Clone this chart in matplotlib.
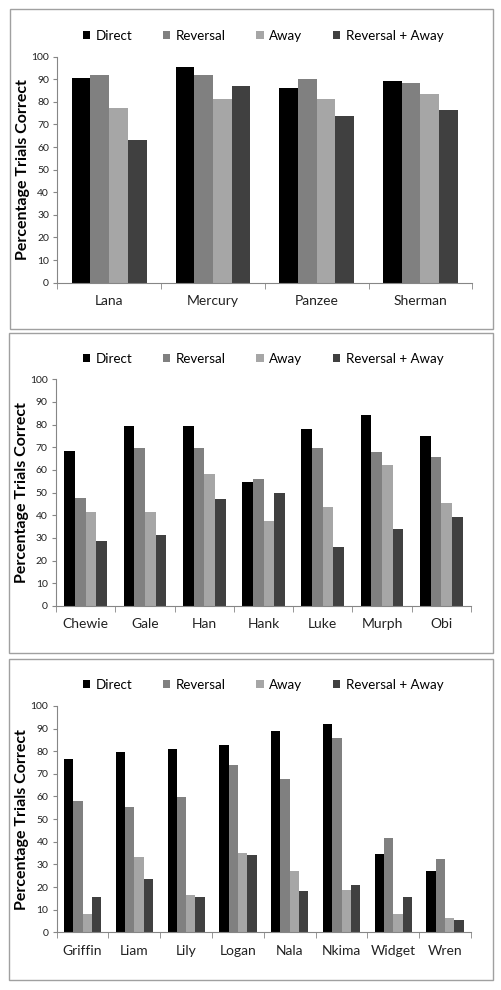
import numpy as np
import matplotlib.pyplot as plt
from matplotlib.patches import Rectangle

series = ["Direct", "Reversal", "Away", "Reversal + Away"]
colors = ["#000000", "#808080", "#a6a6a6", "#404040"]

# panel 1
names_1 = ["Lana", "Mercury", "Panzee", "Sherman"]
direct_1 = [90.7, 95.6, 86.0, 89.2]
reversal_1 = [92.0, 92.0, 90.1, 88.2]
away_1 = [77.3, 81.3, 81.3, 83.3]
revaway_1 = [63.3, 87.0, 73.7, 76.5]

# panel 2
names_2 = ["Chewie", "Gale", "Han", "Hank", "Luke", "Murph", "Obi"]
direct_2 = [68.5, 79.4, 79.4, 54.6, 77.9, 84.1, 74.9]
reversal_2 = [47.8, 69.9, 69.9, 55.9, 69.9, 67.8, 65.9]
away_2 = [41.5, 41.5, 58.1, 37.5, 43.5, 62.4, 45.6]
revaway_2 = [28.8, 31.5, 47.2, 49.9, 26.2, 34.1, 39.3]

# panel 3
names_3 = ["Griffin", "Liam", "Lily", "Logan", "Nala", "Nkima", "Widget", "Wren"]
direct_3 = [76.4, 79.5, 81.1, 82.9, 89.0, 92.0, 34.5, 27.1]
reversal_3 = [57.9, 55.4, 59.9, 74.1, 67.9, 85.9, 41.8, 32.6]
away_3 = [8.2, 33.3, 16.5, 35.2, 27.0, 18.6, 8.2, 6.5]
revaway_3 = [15.8, 23.7, 15.6, 34.2, 18.4, 20.9, 15.8, 5.4]

plt.rcParams['font.family'] = ['Lato', 'DejaVu Sans']

fig = plt.figure(figsize=(5.02, 9.9), dpi=100)

panels = [
    (names_1, [direct_1, reversal_1, away_1, revaway_1],
     [0.0199, 0.6677, 0.962, 0.3233], [0.1141, 0.7145, 0.8267, 0.2283], 0.964),
    (names_2, [direct_2, reversal_2, away_2, revaway_2],
     [0.0179, 0.3404, 0.964, 0.3236], [0.1116, 0.3879, 0.8267, 0.2290], 0.6374),
    (names_3, [direct_3, reversal_3, away_3, revaway_3],
     [0.0179, 0.0101, 0.964, 0.3242], [0.1129, 0.0583, 0.8254, 0.2286], 0.308),
]

axis_gray = "#868686"
bar_w = 0.18

for names, values, box, pos, leg_y in panels:
    fig.patches.append(Rectangle((box[0], box[1]), box[2], box[3],
                                 transform=fig.transFigure, fill=False,
                                 edgecolor="#a0a0a0", linewidth=1.0))
    ax = fig.add_axes(pos)
    x = np.arange(len(names))
    for i, (vals, label, c) in enumerate(zip(values, series, colors)):
        ax.bar(x + (i - 1.5) * bar_w, vals, bar_w, color=c, label=label)

    ax.set_xlim(-0.5, len(names) - 0.5)
    ax.set_ylim(0, 100)
    ax.set_yticks(np.arange(0, 101, 10))
    ax.set_xticks(x)
    ax.set_xticklabels(names, fontsize=10, color="#222222")
    ax.set_xticks(np.arange(-0.5, len(names), 1.0), minor=True)
    ax.tick_params(axis="x", which="major", length=0, pad=9)
    ax.tick_params(axis="x", which="minor", length=4, color=axis_gray)
    ax.tick_params(axis="y", length=3, color=axis_gray, labelsize=7.5,
                   labelcolor="#222222", pad=3)
    for side in ["top", "right"]:
        ax.spines[side].set_visible(False)
    for side in ["left", "bottom"]:
        ax.spines[side].set_color(axis_gray)
        ax.spines[side].set_linewidth(0.8)
    ax.set_ylabel("Percentage Trials Correct", fontsize=11.5, fontweight="bold",
                  labelpad=1)

    ax.legend(loc="center", bbox_to_anchor=(0.524, leg_y),
              bbox_transform=fig.transFigure, ncol=4, frameon=False,
              fontsize=9.6, handlelength=0.55, handleheight=0.55,
              handletextpad=0.4, columnspacing=2.3)

fig.savefig("out.png", dpi=100)
